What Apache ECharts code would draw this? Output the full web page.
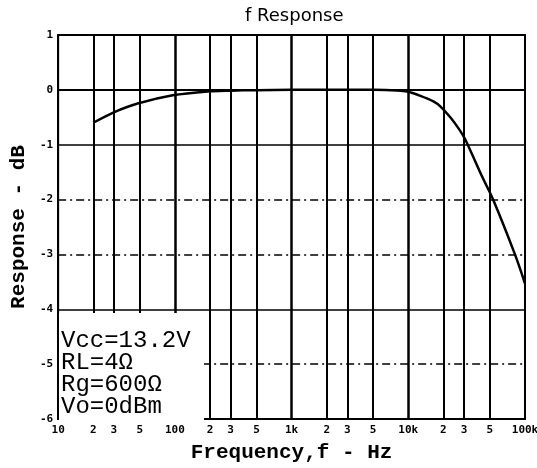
<!DOCTYPE html>
<html>
<head>
<meta charset="utf-8">
<script src="https://cdn.jsdelivr.net/npm/echarts@6/dist/echarts.min.js"></script>
<style>
html, body { margin: 0; padding: 0; background: #fff; }
#report { width: 537px; height: 468px; }
</style>
</head>
<body>
<div id="report"></div>
<script>
// frequency response
var freqs = [20, 30, 48, 96, 191, 300, 500, 1000, 2000, 5000, 8000, 9800, 12700, 16400, 18800, 22900, 27300, 30700, 42900, 53300, 82000, 100000];
var response = [-0.60, -0.41, -0.25, -0.10, -0.03, -0.015, -0.005, 0, 0, 0, -0.01, -0.03, -0.11, -0.21, -0.30, -0.50, -0.72, -0.90, -1.58, -2.0, -3.0, -3.53];

// grid of the chart paper
var gridFreqs = [10, 20, 30, 50, 100, 200, 300, 500, 1000, 2000, 3000, 5000, 10000, 20000, 30000, 50000, 100000];
var gridFreqLabels = ['10', '2', '3', '5', '100', '2', '3', '5', '1k', '2', '3', '5', '10k', '2', '3', '5', '100k'];
var gridLevels = [0, -1, -2, -3, -4, -5];
var notes = ['Vcc=13.2V', 'RL=4Ω', 'Rg=600Ω', 'Vo=0dBm'];

(function() {
	var myChart = echarts.init(document.getElementById('report'));
	var dashed = { '-2': 1, '-3': 1, '-5': 1 };
	var lines = [];
	gridFreqs.forEach(function(f, i) {
		var decade = (f === 100 || f === 1000 || f === 10000);
		lines.push({
			xAxis: f,
			lineStyle: { color: '#000', width: decade ? 2.5 : 2, type: 'solid' },
			label: {
				show: true,
				position: 'start',
				distance: 6,
				formatter: gridFreqLabels[i],
				color: '#000',
				fontFamily: 'DejaVu Sans Mono',
				fontWeight: 'bold',
				fontSize: 11
			}
		});
	});
	gridLevels.forEach(function(v) {
		lines.push({
			yAxis: v,
			lineStyle: { color: '#000', width: 1.5, type: dashed[v] ? [8, 4, 2, 4] : 'solid' },
			label: { show: false }
		});
	});

	var option = {
		animation: false,
		backgroundColor: '#fff',
		title: {
			text: 'f Response',
			left: 240,
			top: 2,
			textStyle: { fontFamily: 'DejaVu Sans', fontWeight: 'normal', fontSize: 18, color: '#000' }
		},
		grid: {
			left: 57,
			right: 12,
			top: 35,
			bottom: 46,
			show: true,
			borderColor: '#000',
			borderWidth: 2
		},
		xAxis: {
			type: 'log',
			logBase: 10,
			min: 10,
			max: 100000,
			name: 'Frequency,f - Hz',
			nameLocation: 'middle',
			nameGap: 23,
			nameTextStyle: { fontFamily: 'Liberation Mono', fontWeight: 'bold', fontSize: 21, color: '#000' },
			axisLine: { lineStyle: { color: '#000', width: 2 } },
			axisTick: { show: false },
			axisLabel: { show: false },
			splitLine: { show: false },
			minorSplitLine: { show: false }
		},
		yAxis: {
			type: 'value',
			min: -6,
			max: 1,
			interval: 1,
			name: 'Response - dB',
			nameLocation: 'middle',
			nameGap: 22,
			nameTextStyle: { fontFamily: 'Liberation Mono', fontWeight: 'bold', fontSize: 21, color: '#000' },
			axisLine: { show: true, lineStyle: { color: '#000', width: 2 } },
			axisTick: { show: false },
			axisLabel: { color: '#000', fontFamily: 'DejaVu Sans Mono', fontWeight: 'bold', fontSize: 11, margin: 5 },
			splitLine: { show: false }
		},
		series: [{
			type: 'line',
			data: freqs.map(function(f, i) { return [f, response[i]]; }),
			smooth: 0.3,
			symbol: 'none',
			lineStyle: { color: '#000', width: 2.5 },
			z: 6,
			markLine: {
				silent: true,
				symbol: 'none',
				z: 3,
				data: lines
			}
		}],
		graphic: [{
			type: 'rect',
			z: 100,
			shape: { x: 59, y: 313, width: 145, height: 107 },
			style: { fill: '#fff' }
		}, {
			type: 'text',
			z: 101,
			left: 61,
			top: 329,
			style: {
				text: notes.join('\n'),
				font: '24px "Liberation Mono"',
				lineHeight: 22,
				fill: '#000'
			}
		}]
	};
	myChart.setOption(option);
})();
</script>
</body>
</html>
